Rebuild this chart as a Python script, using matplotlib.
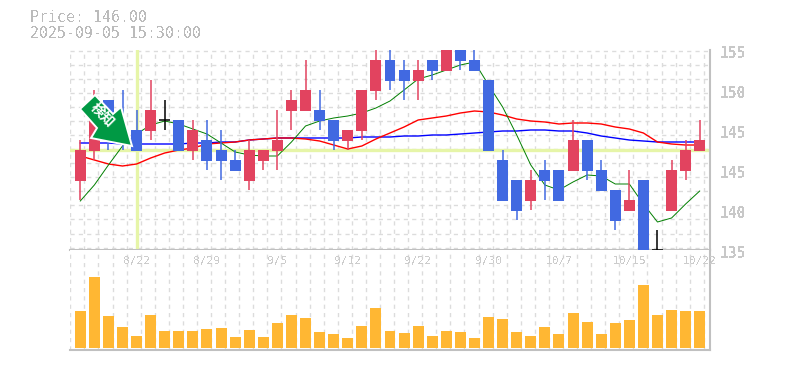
import matplotlib
matplotlib.use('Agg')
import matplotlib.pyplot as plt
import numpy as np
from matplotlib.patches import Polygon

# Daily candles, 8/18 to 10/22
highs = [147, 152, 151, 152, 150, 153, 151, 149, 149, 149, 148, 146, 147, 146, 150,
         152, 155, 152, 149, 148, 152, 157, 157, 155, 155, 155, 157, 157, 156, 153,
         146, 143, 144, 145, 144, 149, 147, 145, 142, 144, 143, 138, 145, 147, 149]
lows = [141, 145, 146, 146, 146, 147, 148, 146, 145, 144, 143, 144, 142, 144, 144,
        148, 150, 148, 146, 146, 147, 151, 152, 151, 151, 153, 154, 154, 154, 146,
        141, 139, 140, 141, 141, 144, 143, 142, 138, 140, 136, 136, 140, 143, 146]
opens = [146, 149, 148, 147, 146, 150, 149, 146, 148, 145, 145, 144, 146, 146, 147,
         151, 152, 149, 147, 148, 152, 155, 153, 153, 154, 154, 157, 155, 154, 146,
         141, 140, 143, 143, 141, 147, 144, 142, 139, 141, 136, 136, 144, 146, 147]
closes = [143, 146, 151, 148, 148, 148, 149, 149, 146, 147, 146, 145, 143, 145, 146,
          150, 150, 150, 149, 147, 148, 152, 155, 154, 153, 155, 154, 157, 155, 153,
          145, 143, 141, 144, 144, 144, 147, 144, 142, 140, 143, 136, 140, 144, 146]

# Moving averages
ma_short = [140.9, 142.5, 144.5, 146.4, 147.6, 148.5, 148.9, 148.6, 148.1, 147.6, 146.7, 145.8, 145.5, 145.4, 145.4,
            146.8, 148.4, 148.9, 149.2, 149.4, 149.7, 150.2, 150.9, 152.0, 153.1, 153.5, 154.0, 154.5, 154.8, 152.5,
            150.3, 147.5, 144.5, 142.5, 142.0, 142.8, 143.5, 143.4, 142.6, 142.6, 140.6, 138.8, 139.2, 140.6, 141.9]
ma_mid = [145.4, 145.0, 144.6, 144.4, 144.6, 145.2, 145.7, 146.0, 146.2, 146.6, 146.7, 146.8, 147.0, 147.1, 147.2,
          147.2, 147.1, 146.9, 146.5, 146.1, 146.4, 147.1, 147.7, 148.3, 149.0, 149.2, 149.4, 149.7, 149.9, 149.8,
          149.5, 149.1, 148.9, 148.8, 148.6, 148.7, 148.7, 148.6, 148.3, 148.1, 147.7, 146.8, 146.6, 146.5, 146.5]
ma_long = [146.7, 146.7, 146.7, 146.6, 146.6, 146.6, 146.6, 146.6, 146.7, 146.7, 146.8, 146.8, 147.0, 147.1, 147.2,
           147.2, 147.2, 147.2, 147.2, 147.2, 147.3, 147.3, 147.3, 147.4, 147.4, 147.5, 147.5, 147.6, 147.7, 147.8,
           147.9, 147.9, 148.0, 148.0, 147.9, 147.9, 147.7, 147.4, 147.2, 147.0, 146.9, 146.8, 146.8, 146.8, 146.8]

volumes = [37, 71, 32, 21, 12, 33, 17, 17, 17, 19, 20, 11, 18, 11, 25, 33, 30, 16, 14, 10, 22, 40, 17,
           15, 22, 12, 17, 16, 10, 31, 29, 16, 12, 21, 14, 35, 26, 14, 25, 28, 63, 33, 38, 37, 37]

date_idx = [4, 9, 14, 19, 24, 29, 34, 39, 44]
date_labels = ['8/22', '8/29', '9/5', '9/12', '9/22', '9/30', '10/7', '10/15', '10/22']
price_ticks = [156, 152, 148, 144, 140, 136]
price_labels = ['155', '150', '145', '145', '140', '135']

RED = '#e2435f'
BLUE = '#4169e1'
GRID = '#dcdcdc'
AXIS = '#c0c0c0'
HILITE = '#e6f5a8'

W, H = 785, 370
plt.rcParams['font.family'] = ['DejaVu Sans Mono']
plt.rcParams['text.antialiased'] = False
fig = plt.figure(figsize=(W / 100, H / 100), dpi=100, facecolor='white')


def box(x0, y0, x1, y1):
    return [x0 / W, 1 - y1 / H, (x1 - x0) / W, (y1 - y0) / H]


ax = fig.add_axes(box(70, 50, 710, 250))
vx = fig.add_axes(box(70, 250, 710, 350))
xs = np.arange(len(closes))
xlim = (-0.73, 44.73)
grid_x = np.arange(xlim[0] + 0.02, xlim[1], 1.0)

for a in (ax, vx):
    a.set_xlim(*xlim)
    a.set_xticks([])
    a.set_yticks([])
    for s in ('top', 'left'):
        a.spines[s].set_visible(False)
    for s in ('right', 'bottom'):
        a.spines[s].set_color(AXIS)
        a.spines[s].set_linewidth(1.5)
    for gx in grid_x:
        a.axvline(gx, color=GRID, lw=1, ls=(0, (3, 3)), zorder=0)

ax.set_ylim(136, 156)
for gy in np.arange(155.95, 136.1, -1.408):
    ax.axhline(gy, color=GRID, lw=1, ls=(0, (3, 3)), zorder=0, clip_on=False)

# Current price and date highlight
ax.axhline(closes[-1], color=HILITE, lw=2.4, zorder=1)
ax.axvline(4, color=HILITE, lw=2.4, zorder=1)

ax.plot(xs, ma_long, color='#0000ff', lw=1.0, zorder=2)
ax.plot(xs, ma_mid, color='#ff0000', lw=1.0, zorder=2)
ax.plot(xs, ma_short, color='#007f00', lw=0.7, zorder=2)

for i in xs:
    o, c = opens[i], closes[i]
    if o == c:
        col = 'black'
    elif c < o:
        col = RED
    else:
        col = BLUE
    ax.vlines(i, lows[i], highs[i], color=col, lw=1.1, zorder=3)
    if o == c:
        ax.hlines(o, i - 0.39, i + 0.39, color=col, lw=1.1, zorder=3)
    else:
        ax.bar(i, abs(o - c) + 0.07, bottom=min(o, c) - 0.07, width=0.78, color=col, zorder=3)

vx.bar(xs, volumes, width=0.78, color='#ffb733', zorder=2)
vx.set_ylim(-2, 98)

for i, lab in zip(date_idx, date_labels):
    vx.text(i, 87, lab, color='#cccccc', fontsize=8, ha='center', va='center', zorder=4)

for p, lab in zip(price_ticks, price_labels):
    y = 50 + (156 - p) * 10 + 3.5
    fig.text(720 / W, 1 - y / H, lab, color='#c8c8c8', fontsize=10.5, fontweight='bold', ha='left', va='center')

fig.text(30 / W, 1 - 18 / H, 'Price: 146.00', color='#bbbbbb', fontsize=10.7, ha='left', va='center')
fig.text(30 / W, 1 - 33 / H, '2025-09-05 15:30:00', color='#bbbbbb', fontsize=10.7, ha='left', va='center')

# Signal badge, drawn in figure pixels
arrow_px = [(95, 95), (113, 114), (121, 107), (132, 146), (91, 138), (97, 128), (80, 109)]
arrow = Polygon([(x / W, 1 - y / H) for x, y in arrow_px], closed=True, transform=fig.transFigure,
                facecolor='#009944', edgecolor='white', lw=1.4, zorder=10)
fig.add_artist(arrow)
fig.text(102 / W, 1 - 115 / H, '検知', color='white', fontsize=10, fontweight='bold', rotation=-45,
         family=['Noto Sans CJK JP', 'DejaVu Sans'], ha='center', va='center', rotation_mode='anchor',
         zorder=11, antialiased=True)

fig.savefig('out.png', dpi=100)
